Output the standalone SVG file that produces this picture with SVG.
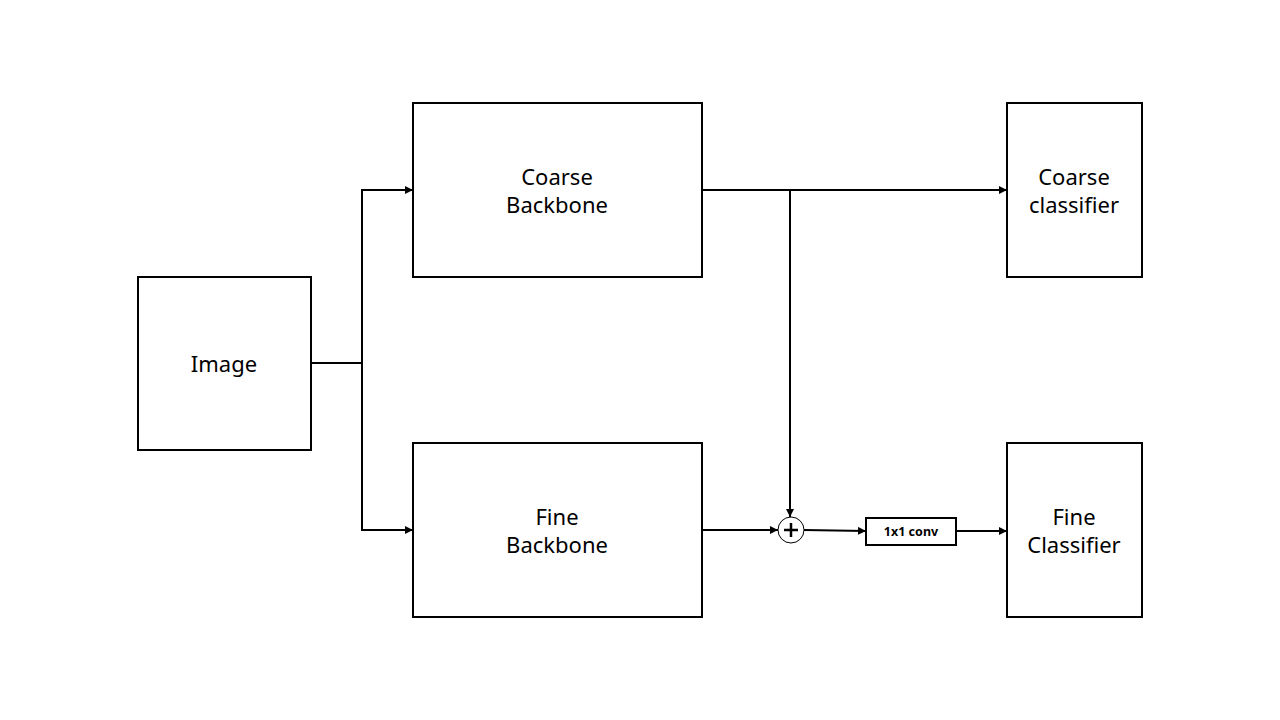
<svg xmlns="http://www.w3.org/2000/svg" width="1280" height="720" viewBox="0 0 1280 720">
<style>
.box{fill:#fff;stroke:#000;stroke-width:2}
.lbl{font-family:"Noto Sans","Open Sans",sans-serif;font-size:22px;fill:#000;text-anchor:middle}
.small{font-family:"Noto Sans","Open Sans",sans-serif;font-size:12.5px;font-weight:bold;fill:#000;text-anchor:middle}
.ln{fill:none;stroke:#000;stroke-width:2}
</style>
<defs>
<marker id="arr" viewBox="0 0 10 10" refX="10" refY="5" markerWidth="4" markerHeight="4" orient="auto" markerUnits="strokeWidth">
<path d="M0,0 L10,5 L0,10 z" fill="#000"/>
</marker>
</defs>
<rect width="1280" height="720" fill="#fff"/>
<g id="connectors">
<path class="ln" d="M311,363 H362" stroke-width="3"/>
<path class="ln" d="M362,363 V190 H413" marker-end="url(#arr)"/>
<path class="ln" d="M362,363 V530 H413" marker-end="url(#arr)"/>
<path class="ln" d="M702,190 H1007" marker-end="url(#arr)"/>
<path class="ln" d="M790,190 V517" marker-end="url(#arr)"/>
<path class="ln" d="M702,530 H778" marker-end="url(#arr)"/>
<path class="ln" d="M804,530 L866,531" marker-end="url(#arr)"/>
<path class="ln" d="M956,531 H1007" marker-end="url(#arr)"/>
</g>
<g id="image"><rect class="box" x="138" y="277" width="173" height="173"/><text class="lbl" x="224" y="372">Image</text></g>
<g id="coarse-backbone"><rect class="box" x="413" y="103" width="289" height="174"/><text class="lbl" x="557" y="185">Coarse</text><text class="lbl" x="557" y="213">Backbone</text></g>
<g id="fine-backbone"><rect class="box" x="413" y="443" width="289" height="174"/><text class="lbl" x="557" y="525">Fine</text><text class="lbl" x="557" y="553">Backbone</text></g>
<g id="coarse-classifier"><rect class="box" x="1007" y="103" width="135" height="174"/><text class="lbl" x="1074" y="185">Coarse</text><text class="lbl" x="1074" y="213">classifier</text></g>
<g id="fine-classifier"><rect class="box" x="1007" y="443" width="135" height="174"/><text class="lbl" x="1074" y="525">Fine</text><text class="lbl" x="1074" y="553">Classifier</text></g>
<g id="sum"><circle cx="791" cy="530" r="13" fill="#fff" stroke="#000" stroke-width="1"/><path d="M784,530 H798 M791,523 V537" stroke="#000" stroke-width="2.5"/></g>
<g id="conv"><rect class="box" x="866" y="518" width="90" height="27"/><text class="small" x="911" y="536">1x1 conv</text></g>
</svg>
